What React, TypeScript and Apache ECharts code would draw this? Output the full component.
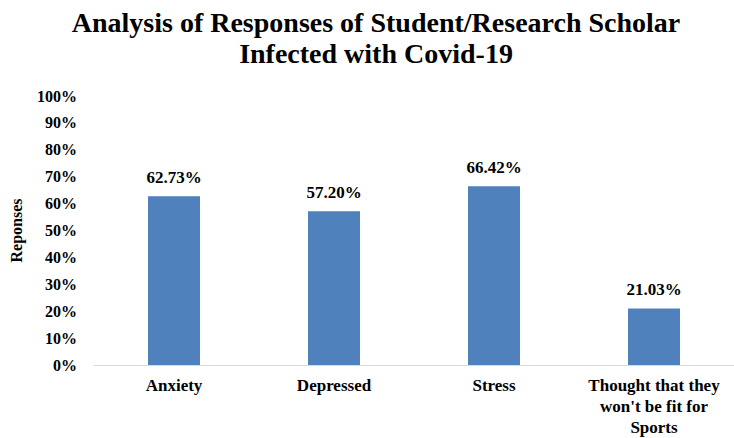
import React, { useEffect, useRef } from "react";
import * as echarts from "echarts";

const categories = ["Anxiety", "Depressed", "Stress", "Thought that they\nwon't be fit for\nSports"];
const values = [62.73, 57.2, 66.42, 21.03];
const yTicks = [0, 10, 20, 30, 40, 50, 60, 70, 80, 90, 100];

const FONT = "'Liberation Serif', 'Times New Roman', serif";

export default function App() {
  const ref = useRef<HTMLDivElement>(null);
  useEffect(() => {
    const chart = echarts.init(ref.current!, null, { renderer: "svg" });
    chart.setOption({
      animation: false,
      backgroundColor: "#ffffff",
      title: {
        text: "Analysis of Responses of Student/Research Scholar\nInfected with Covid-19",
        left: 371,
        textAlign: "center",
        top: 2,
        textStyle: { fontFamily: FONT, fontWeight: "bold", fontSize: 28, color: "#000", lineHeight: 31 },
      },
      grid: { left: 94, top: 96, width: 650, bottom: 71, containLabel: false },
      xAxis: {
        type: "category",
        data: categories,
        axisLine: { lineStyle: { color: "#d9d9d9" } },
        axisTick: { show: false },
        axisLabel: { fontFamily: FONT, fontWeight: "bold", fontSize: 17, color: "#000", lineHeight: 21, margin: 10, interval: 0 },
      },
      yAxis: {
        type: "value",
        min: 0,
        max: 100,
        interval: 10,
        name: "Reponses",
        nameLocation: "middle",
        nameGap: 70,
        nameRotate: 90,
        nameTextStyle: { fontFamily: FONT, fontWeight: "bold", fontSize: 16, color: "#000" },
        splitLine: { show: false },
        axisLine: { show: false },
        axisTick: { show: false },
        axisLabel: {
          fontFamily: FONT, fontWeight: "bold", fontSize: 16, color: "#000", margin: 17,
          formatter: (v: number) => (yTicks.includes(v) ? v + "%" : ""),
        },
      },
      series: [
        {
          type: "bar",
          data: values,
          barWidth: 52,
          itemStyle: { color: "#4F81BD" },
          label: {
            show: true,
            position: "top",
            distance: 10,
            fontFamily: FONT, fontWeight: "bold", fontSize: 17, color: "#000",
            formatter: (p: any) => p.value.toFixed(2) + "%",
          },
        },
      ],
    });
    return () => chart.dispose();
  }, []);
  return <div ref={ref} style={{ position: "fixed", left: 0, top: 0, width: 734, height: 438 }} />;
}
